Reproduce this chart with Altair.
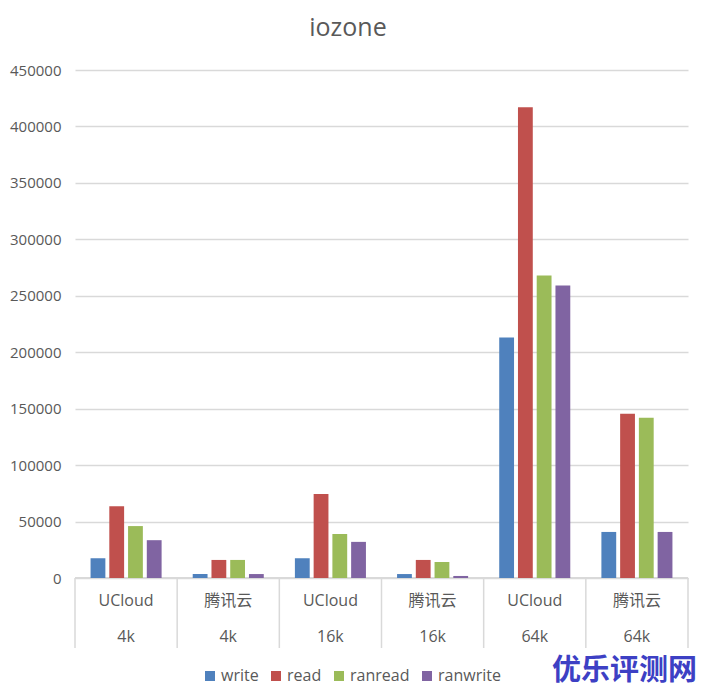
import altair as alt
import pandas as pd

# ---- data ----
keys = ["UCloud|4k", "腾讯云|4k", "UCloud|16k", "腾讯云|16k", "UCloud|64k", "腾讯云|64k"]
providers = ["UCloud", "腾讯云", "UCloud", "腾讯云", "UCloud", "腾讯云"]
sizes = ["4k", "4k", "16k", "16k", "64k", "64k"]
series = ["write", "read", "ranread", "ranwrite"]
write = [17500, 3500, 17500, 3500, 213000, 40800]
read = [63500, 16000, 74500, 16000, 417000, 145500]
ranread = [46000, 16000, 39000, 14200, 268000, 142000]
ranwrite = [33500, 3500, 32000, 1800, 259000, 40800]
colors = ["#4F81BD", "#C0504D", "#9BBB59", "#8064A2"]
y_ticks = [0, 50000, 100000, 150000, 200000, 250000, 300000, 350000, 400000, 450000]

vals = {"write": write, "read": read, "ranread": ranread, "ranwrite": ranwrite}
rows = []
for s in series:
    for k, v in zip(keys, vals[s]):
        rows.append({"key": k, "series": s, "value": v})
df = pd.DataFrame(rows)
groups = pd.DataFrame({"key": keys, "provider": providers, "size": sizes})
last_group = groups[groups["key"] == keys[-1]]

FONT = "Open Sans, Noto Sans CJK SC, sans-serif"
GRAY = "#595959"
LINE = "#D9D9D9"
H = 508
W = 613

xenc = alt.X("key:N", sort=keys, axis=None,
             scale=alt.Scale(paddingInner=0, paddingOuter=0))

bars = alt.Chart(df).mark_bar().encode(
    x=xenc,
    xOffset=alt.XOffset("series:N", sort=series,
                        scale=alt.Scale(paddingInner=0.21, paddingOuter=0.83)),
    y=alt.Y("value:Q", title=None,
            scale=alt.Scale(domain=[0, 450000], nice=False),
            axis=alt.Axis(values=y_ticks, format="d", grid=True, gridColor=LINE,
                          gridWidth=1.3, domain=False, ticks=False, labelPadding=14,
                          labelFontSize=15, labelColor=GRAY, labelFont=FONT)),
    color=alt.Color("series:N", sort=series,
                    scale=alt.Scale(domain=series, range=colors),
                    legend=alt.Legend(title=None, orient="none", direction="horizontal",
                                      legendX=127, legendY=598, symbolType="square",
                                      symbolSize=100, symbolStrokeWidth=0,
                                      labelFontSize=16, labelColor=GRAY, labelFont=FONT,
                                      labelOffset=3, columnPadding=9)),
)

axis_line = alt.Chart(groups).mark_rule(color=LINE, strokeWidth=1.5).encode(
    x=alt.value(0), x2=alt.value(W), y=alt.value(H))

seps = alt.Chart(groups).mark_rule(color=LINE, strokeWidth=1.5).encode(
    x=alt.X("key:N", sort=keys, axis=None, bandPosition=0),
    y=alt.value(H), y2=alt.value(H + 70))

sep_end = alt.Chart(last_group).mark_rule(color=LINE, strokeWidth=1.5).encode(
    x=alt.X("key:N", sort=keys, axis=None, bandPosition=1),
    y=alt.value(H), y2=alt.value(H + 70))

lab1 = alt.Chart(groups).mark_text(fontSize=16, color=GRAY, font=FONT,
                                   baseline="middle").encode(
    x=alt.X("key:N", sort=keys, axis=None), y=alt.value(H + 23), text="provider:N")

lab2 = alt.Chart(groups).mark_text(fontSize=16, color=GRAY, font=FONT,
                                   baseline="middle").encode(
    x=alt.X("key:N", sort=keys, axis=None), y=alt.value(H + 59), text="size:N")

title = alt.Chart(pd.DataFrame({"t": ["iozone"]})).mark_text(
    fontSize=25, color=GRAY, font=FONT, baseline="middle").encode(
    x=alt.value(273), y=alt.value(-42), text="t:N")

mark = alt.Chart(pd.DataFrame({"t": ["优乐评测网"]})).mark_text(
    fontSize=29, fontWeight="bold", color="#3D40C4", font="Noto Sans CJK SC",
    align="right", baseline="bottom").encode(
    x=alt.value(622), y=alt.value(616), text="t:N")

chart = alt.layer(axis_line, seps, sep_end, bars, lab1, lab2, title, mark).properties(
    width=W, height=H,
    padding={"left": 67, "top": 62, "right": 14, "bottom": 112},
    autosize=alt.AutoSizeParams(type="none"),
).configure_view(stroke=None)

chart.save("out.html", embed_options={"renderer": "svg", "actions": False})
